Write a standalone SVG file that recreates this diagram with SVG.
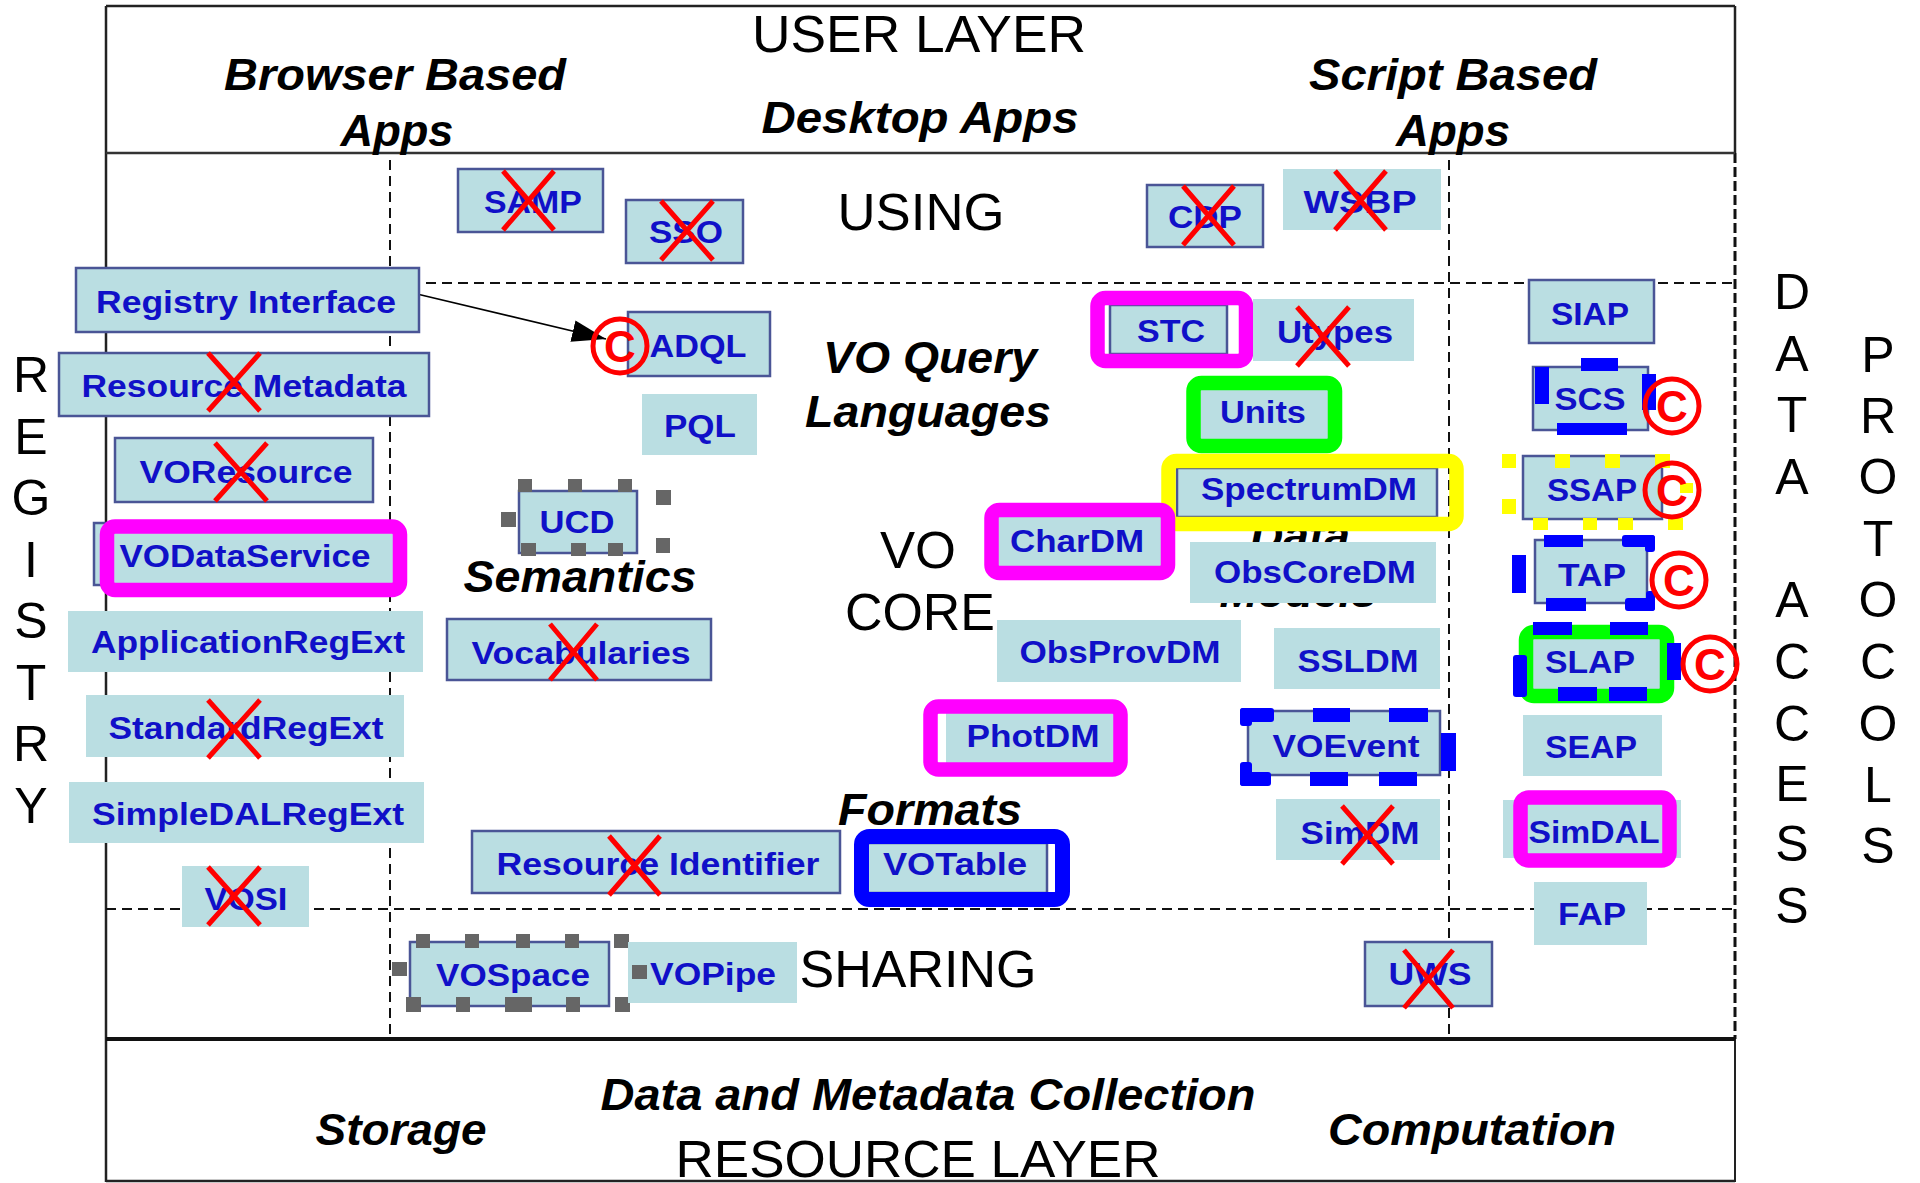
<svg xmlns="http://www.w3.org/2000/svg" width="1920" height="1183" viewBox="0 0 1920 1183">
<defs>
<style>
.bx{fill:#badee2}
.bd{fill:#badee2;stroke:#4a5596;stroke-width:2.5}
.lbl{font-family:"Liberation Sans",Arial,sans-serif;font-weight:bold;font-size:31px;fill:#1010c8;text-anchor:middle}
.big{font-family:"Liberation Sans",Arial,sans-serif;font-size:52px;fill:#000;text-anchor:middle}
.it{font-family:"Liberation Sans",Arial,sans-serif;font-size:44px;font-weight:bold;font-style:italic;fill:#000;text-anchor:middle}
.vl{font-family:"Liberation Sans",Arial,sans-serif;font-size:50px;fill:#000;text-anchor:middle}
.dash{stroke:#111;stroke-width:2;stroke-dasharray:10 6;fill:none}
.x{stroke:#ff0000;stroke-width:5;fill:none}
.cc{fill:none;stroke:#ff0000;stroke-width:5}
.ct{font-family:"Liberation Sans",Arial,sans-serif;font-weight:bold;font-size:44px;fill:#ff0000;text-anchor:middle}
.mg{fill:none;stroke:#ff00ff;stroke-width:14.5}
.gr{fill:none;stroke:#00ff00;stroke-width:14.5}
.ye{fill:none;stroke:#ffff00;stroke-width:14.5}
.bl{fill:none;stroke:#0000ff;stroke-width:15}
.bdsh{fill:#0000ff}
.ydsh{fill:#ffff00}
.h{fill:#666666}
</style>
<marker id="arr" markerWidth="34" markerHeight="22" refX="34" refY="11" orient="auto" markerUnits="userSpaceOnUse"><path d="M0,0 L34,11 L0,22 z" fill="#000"/></marker>
</defs>
<rect width="1920" height="1183" fill="#ffffff"/>

<g id="frame">
<line x1="106" y1="6" x2="1735" y2="6" stroke="#222" stroke-width="2.5"/>
<line x1="106" y1="6" x2="106" y2="1182" stroke="#222" stroke-width="2.5"/>
<line x1="1735" y1="6" x2="1735" y2="153" stroke="#222" stroke-width="2.5"/>
<line x1="1735" y1="153" x2="1735" y2="1039" stroke="#111" stroke-width="3" stroke-dasharray="10 4"/>
<line x1="1735" y1="1039" x2="1735" y2="1182" stroke="#222" stroke-width="2"/>
<line x1="106" y1="1181" x2="1735" y2="1181" stroke="#222" stroke-width="2.5"/>
<line x1="106" y1="153" x2="1735" y2="153" stroke="#333" stroke-width="2.5"/>
<line x1="106" y1="1039" x2="1735" y2="1039" stroke="#111" stroke-width="4"/>
<line x1="106" y1="283" x2="1735" y2="283" class="dash"/>
<line x1="106" y1="909" x2="1735" y2="909" class="dash"/>
<line x1="390" y1="160" x2="390" y2="1039" class="dash"/>
<line x1="1449" y1="160" x2="1449" y2="1039" class="dash"/>
</g>

<g id="labels">
<text class="big" x="919" y="52" textLength="334" lengthAdjust="spacingAndGlyphs">USER LAYER</text>
<text class="it" x="395" y="90" textLength="342" lengthAdjust="spacingAndGlyphs">Browser Based</text>
<text class="it" x="397" y="146" textLength="113" lengthAdjust="spacingAndGlyphs">Apps</text>
<text class="it" x="920" y="133" textLength="317" lengthAdjust="spacingAndGlyphs">Desktop Apps</text>
<text class="it" x="1453" y="90" textLength="288" lengthAdjust="spacingAndGlyphs">Script Based</text>
<text class="it" x="1453" y="146" textLength="114" lengthAdjust="spacingAndGlyphs">Apps</text>
<text class="big" x="921" y="230" textLength="167" lengthAdjust="spacingAndGlyphs">USING</text>
<text class="it" x="930" y="373" textLength="214" lengthAdjust="spacingAndGlyphs">VO Query</text>
<text class="it" x="928" y="427" textLength="246" lengthAdjust="spacingAndGlyphs">Languages</text>
<text class="it" x="580" y="592" textLength="233" lengthAdjust="spacingAndGlyphs">Semantics</text>
<text class="big" x="918" y="568" textLength="76" lengthAdjust="spacingAndGlyphs">VO</text>
<text class="big" x="920" y="630" textLength="150" lengthAdjust="spacingAndGlyphs">CORE</text>
<text class="it" x="1300" y="551" textLength="100" lengthAdjust="spacingAndGlyphs">Data</text>
<text class="it" x="1298" y="607" textLength="157" lengthAdjust="spacingAndGlyphs">Models</text>
<text class="it" x="930" y="825" textLength="184" lengthAdjust="spacingAndGlyphs">Formats</text>
<text class="big" x="918" y="987" textLength="237" lengthAdjust="spacingAndGlyphs">SHARING</text>
<text class="it" x="928" y="1110" textLength="655" lengthAdjust="spacingAndGlyphs">Data and Metadata Collection</text>
<text class="it" x="401" y="1145" textLength="171" lengthAdjust="spacingAndGlyphs">Storage</text>
<text class="it" x="1472" y="1145" textLength="288" lengthAdjust="spacingAndGlyphs">Computation</text>
<text class="big" x="918" y="1177" textLength="485" lengthAdjust="spacingAndGlyphs">RESOURCE LAYER</text>
</g>

<g id="registry-label">
<text class="vl" x="31" y="392">R</text>
<text class="vl" x="31" y="454">E</text>
<text class="vl" x="31" y="515">G</text>
<text class="vl" x="31" y="577">I</text>
<text class="vl" x="31" y="638">S</text>
<text class="vl" x="31" y="700">T</text>
<text class="vl" x="31" y="761">R</text>
<text class="vl" x="31" y="823">Y</text>
</g>
<g id="data-access-label">
<text class="vl" x="1792" y="309">D</text>
<text class="vl" x="1792" y="371">A</text>
<text class="vl" x="1792" y="432">T</text>
<text class="vl" x="1792" y="494">A</text>
<text class="vl" x="1792" y="617">A</text>
<text class="vl" x="1792" y="679">C</text>
<text class="vl" x="1792" y="741">C</text>
<text class="vl" x="1792" y="801">E</text>
<text class="vl" x="1792" y="861">S</text>
<text class="vl" x="1792" y="923">S</text>
</g>
<g id="protocols-label">
<text class="vl" x="1878" y="372">P</text>
<text class="vl" x="1878" y="433">R</text>
<text class="vl" x="1878" y="494">O</text>
<text class="vl" x="1878" y="556">T</text>
<text class="vl" x="1878" y="617">O</text>
<text class="vl" x="1878" y="679">C</text>
<text class="vl" x="1878" y="741">O</text>
<text class="vl" x="1878" y="802">L</text>
<text class="vl" x="1878" y="863">S</text>
</g>

<g id="connectors">
<line x1="417" y1="294" x2="606" y2="339" stroke="#000" stroke-width="1.6" marker-end="url(#arr)"/>
</g>

<g id="node-samp"><rect class="bd" x="458" y="169" width="145" height="63"/><text class="lbl" x="533" y="213" textLength="98" lengthAdjust="spacingAndGlyphs">SAMP</text></g>
<g id="node-sso"><rect class="bd" x="626" y="200" width="117" height="63"/><text class="lbl" x="686" y="243" textLength="74" lengthAdjust="spacingAndGlyphs">SSO</text></g>
<g id="node-cdp"><rect class="bd" x="1147" y="185" width="116" height="62"/><text class="lbl" x="1205" y="228" textLength="74" lengthAdjust="spacingAndGlyphs">CDP</text></g>
<g id="node-wsbp"><rect class="bx" x="1283" y="169" width="158" height="61"/><text class="lbl" x="1360" y="213" textLength="113" lengthAdjust="spacingAndGlyphs">WSBP</text></g>

<g id="node-registry-interface"><rect class="bd" x="76" y="268" width="343" height="64"/><text class="lbl" x="246" y="313" textLength="300" lengthAdjust="spacingAndGlyphs">Registry Interface</text></g>
<g id="node-resource-metadata"><rect class="bd" x="59" y="353" width="370" height="63"/><text class="lbl" x="244" y="397" textLength="325" lengthAdjust="spacingAndGlyphs">Resource Metadata</text></g>
<g id="node-voresource"><rect class="bd" x="115" y="438" width="258" height="64"/><text class="lbl" x="246" y="483" textLength="213" lengthAdjust="spacingAndGlyphs">VOResource</text></g>
<g id="node-vodataservice"><rect class="bd" x="94" y="523" width="301" height="62"/><rect class="mg" x="107" y="526.5" width="293" height="63.5" rx="8"/><text class="lbl" x="245" y="567" textLength="251" lengthAdjust="spacingAndGlyphs">VODataService</text></g>
<g id="node-applicationregext"><rect class="bx" x="68" y="611" width="355" height="61"/><text class="lbl" x="248" y="653" textLength="314" lengthAdjust="spacingAndGlyphs">ApplicationRegExt</text></g>
<g id="node-standardregext"><rect class="bx" x="86" y="695" width="318" height="62"/><text class="lbl" x="246" y="739" textLength="275" lengthAdjust="spacingAndGlyphs">StandardRegExt</text></g>
<g id="node-simpledalregext"><rect class="bx" x="69" y="782" width="355" height="61"/><text class="lbl" x="248" y="825" textLength="312" lengthAdjust="spacingAndGlyphs">SimpleDALRegExt</text></g>
<g id="node-vosi"><rect class="bx" x="182" y="866" width="127" height="61"/><text class="lbl" x="246" y="910" textLength="83" lengthAdjust="spacingAndGlyphs">VOSI</text></g>

<g id="node-adql"><rect class="bd" x="628" y="312" width="142" height="64"/><text class="lbl" x="698" y="357" textLength="97" lengthAdjust="spacingAndGlyphs">ADQL</text></g>
<g id="node-pql"><rect class="bx" x="642" y="394" width="115" height="61"/><text class="lbl" x="700" y="437" textLength="72" lengthAdjust="spacingAndGlyphs">PQL</text></g>
<g id="node-ucd"><rect class="bd" x="519" y="491" width="118" height="62"/>
<rect class="h" x="518" y="479" width="14" height="13"/><rect class="h" x="568" y="479" width="14" height="13"/><rect class="h" x="618" y="479" width="14" height="13"/>
<rect class="h" x="501" y="512" width="15" height="15"/>
<rect class="h" x="656" y="490" width="15" height="15"/><rect class="h" x="656" y="538" width="14" height="15"/>
<rect class="h" x="521" y="543" width="15" height="13"/><rect class="h" x="571" y="543" width="15" height="13"/><rect class="h" x="608" y="543" width="15" height="13"/>
<text class="lbl" x="577" y="533" textLength="75" lengthAdjust="spacingAndGlyphs">UCD</text></g>
<g id="node-vocabularies"><rect class="bd" x="447" y="619" width="264" height="61"/><text class="lbl" x="581" y="664" textLength="219" lengthAdjust="spacingAndGlyphs">Vocabularies</text></g>

<g id="node-stc"><rect class="bd" x="1110" y="305" width="117" height="49"/><rect class="mg" x="1097.5" y="298" width="148.5" height="63" rx="8"/><text class="lbl" x="1171" y="342" textLength="68" lengthAdjust="spacingAndGlyphs">STC</text></g>
<g id="node-utypes"><rect class="bx" x="1253" y="299" width="161" height="62"/><text class="lbl" x="1335" y="343" textLength="116" lengthAdjust="spacingAndGlyphs">Utypes</text></g>
<g id="node-units"><rect class="bx" x="1199" y="388" width="131" height="53"/><rect class="gr" x="1193.5" y="383" width="141.5" height="63" rx="8"/><text class="lbl" x="1263" y="423" textLength="86" lengthAdjust="spacingAndGlyphs">Units</text></g>
<g id="node-spectrumdm"><rect class="bd" x="1177" y="468" width="260" height="49"/><rect class="ye" x="1168.5" y="461" width="288" height="63" rx="8"/><text class="lbl" x="1309" y="500" textLength="216" lengthAdjust="spacingAndGlyphs">SpectrumDM</text></g>
<g id="node-chardm"><rect class="bx" x="997" y="515" width="166" height="52"/><rect class="mg" x="991.5" y="510" width="176.5" height="63" rx="8"/><text class="lbl" x="1077" y="552" textLength="134" lengthAdjust="spacingAndGlyphs">CharDM</text></g>
<g id="node-obscoredm"><rect class="bx" x="1190" y="542" width="246" height="61"/><text class="lbl" x="1315" y="583" textLength="202" lengthAdjust="spacingAndGlyphs">ObsCoreDM</text></g>
<g id="node-obsprovdm"><rect class="bx" x="997" y="620" width="244" height="62"/><text class="lbl" x="1120" y="663" textLength="201" lengthAdjust="spacingAndGlyphs">ObsProvDM</text></g>
<g id="node-ssldm"><rect class="bx" x="1274" y="628" width="166" height="61"/><text class="lbl" x="1358" y="672" textLength="121" lengthAdjust="spacingAndGlyphs">SSLDM</text></g>
<g id="node-photdm"><rect class="bx" x="946" y="712" width="170" height="52"/><rect class="mg" x="930.5" y="706.5" width="190" height="63" rx="8"/><text class="lbl" x="1033" y="747" textLength="133" lengthAdjust="spacingAndGlyphs">PhotDM</text></g>
<g id="node-voevent"><rect class="bd" x="1248" y="711" width="192" height="64"/>
<rect class="bdsh" x="1240" y="708" width="34" height="14" rx="3"/><rect class="bdsh" x="1240" y="708" width="12" height="18" rx="3"/>
<rect class="bdsh" x="1313" y="708" width="37" height="14"/><rect class="bdsh" x="1389" y="708" width="39" height="14"/>
<rect class="bdsh" x="1240" y="772" width="31" height="14" rx="3"/><rect class="bdsh" x="1240" y="762" width="12" height="24" rx="3"/>
<rect class="bdsh" x="1310" y="772" width="38" height="14"/><rect class="bdsh" x="1379" y="772" width="38" height="14"/>
<rect class="bdsh" x="1441" y="733" width="15" height="38"/>
<text class="lbl" x="1346" y="757" textLength="147" lengthAdjust="spacingAndGlyphs">VOEvent</text></g>
<g id="node-simdm"><rect class="bx" x="1276" y="799" width="164" height="61"/><text class="lbl" x="1360" y="844" textLength="119" lengthAdjust="spacingAndGlyphs">SimDM</text></g>

<g id="node-votable"><rect class="bd" x="866" y="843" width="181" height="50"/><rect class="bl" x="861.5" y="836.5" width="201" height="63" rx="8"/><text class="lbl" x="955" y="875" textLength="144" lengthAdjust="spacingAndGlyphs">VOTable</text></g>
<g id="node-resource-identifier"><rect class="bd" x="472" y="831" width="368" height="62"/><text class="lbl" x="658" y="875" textLength="323" lengthAdjust="spacingAndGlyphs">Resource Identifier</text></g>
<g id="node-vospace"><rect class="bd" x="410" y="942" width="199" height="64"/>
<rect class="h" x="416" y="934" width="14" height="14"/><rect class="h" x="465" y="934" width="14" height="14"/><rect class="h" x="516" y="934" width="14" height="14"/><rect class="h" x="565" y="934" width="14" height="14"/><rect class="h" x="614" y="934" width="15" height="14"/>
<rect class="h" x="392" y="962" width="15" height="14"/>
<rect class="h" x="406" y="997" width="15" height="15"/><rect class="h" x="456" y="997" width="14" height="15"/><rect class="h" x="505" y="997" width="27" height="15"/><rect class="h" x="566" y="997" width="14" height="15"/><rect class="h" x="615" y="997" width="15" height="15"/>
<text class="lbl" x="513" y="986" textLength="154" lengthAdjust="spacingAndGlyphs">VOSpace</text></g>
<g id="node-vopipe"><rect class="bx" x="628" y="942" width="169" height="61"/><rect class="h" x="632" y="965" width="15" height="14"/><text class="lbl" x="713" y="985" textLength="126" lengthAdjust="spacingAndGlyphs">VOPipe</text></g>
<g id="node-uws"><rect class="bd" x="1365" y="942" width="127" height="64"/><text class="lbl" x="1430" y="985" textLength="83" lengthAdjust="spacingAndGlyphs">UWS</text></g>

<g id="node-siap"><rect class="bd" x="1529" y="280" width="125" height="63"/><text class="lbl" x="1590" y="325" textLength="78" lengthAdjust="spacingAndGlyphs">SIAP</text></g>
<g id="node-scs"><rect class="bd" x="1533" y="367" width="115" height="63"/>
<rect class="bdsh" x="1581" y="358" width="37" height="13"/><rect class="bdsh" x="1535" y="367" width="14" height="37"/><rect class="bdsh" x="1642" y="374" width="14" height="36"/><rect class="bdsh" x="1557" y="423" width="70" height="12"/>
<text class="lbl" x="1590" y="410" textLength="71" lengthAdjust="spacingAndGlyphs">SCS</text></g>
<g id="node-ssap"><rect class="bd" x="1523" y="456" width="139" height="63"/>
<rect class="ydsh" x="1502" y="454" width="14" height="14"/><rect class="ydsh" x="1502" y="499" width="14" height="15"/>
<rect class="ydsh" x="1555" y="454" width="15" height="14"/><rect class="ydsh" x="1605" y="454" width="15" height="14"/><rect class="ydsh" x="1655" y="454" width="15" height="14"/>
<rect class="ydsh" x="1533" y="518" width="15" height="12"/><rect class="ydsh" x="1583" y="518" width="14" height="12"/><rect class="ydsh" x="1618" y="518" width="15" height="12"/><rect class="ydsh" x="1668" y="518" width="15" height="12"/>
<rect class="ydsh" x="1680" y="483" width="13" height="10"/>
<text class="lbl" x="1592" y="501" textLength="90" lengthAdjust="spacingAndGlyphs">SSAP</text></g>
<g id="node-tap"><rect class="bd" x="1535" y="540" width="112" height="63"/>
<rect class="bdsh" x="1544" y="535" width="39" height="12"/><rect class="bdsh" x="1622" y="535" width="33" height="12" rx="3"/><rect class="bdsh" x="1645" y="535" width="10" height="17" rx="3"/>
<rect class="bdsh" x="1512" y="555" width="14" height="38"/>
<rect class="bdsh" x="1546" y="598" width="40" height="13"/><rect class="bdsh" x="1625" y="598" width="30" height="13" rx="3"/><rect class="bdsh" x="1646" y="591" width="9" height="20" rx="3"/>
<text class="lbl" x="1592" y="586" textLength="68" lengthAdjust="spacingAndGlyphs">TAP</text></g>
<g id="node-slap"><rect class="bx" x="1531" y="637" width="130" height="54"/><rect class="gr" x="1526" y="632" width="141" height="64" rx="8"/>
<rect class="bdsh" x="1533" y="622" width="39" height="13"/><rect class="bdsh" x="1610" y="622" width="38" height="13"/>
<rect class="bdsh" x="1558" y="687" width="39" height="14"/><rect class="bdsh" x="1609" y="687" width="38" height="14"/>
<rect class="bdsh" x="1513" y="655" width="14" height="42" rx="3"/><rect class="bdsh" x="1667" y="643" width="14" height="37"/>
<text class="lbl" x="1590" y="673" textLength="90" lengthAdjust="spacingAndGlyphs">SLAP</text></g>
<g id="node-seap"><rect class="bx" x="1523" y="715" width="139" height="61"/><text class="lbl" x="1591" y="758" textLength="92" lengthAdjust="spacingAndGlyphs">SEAP</text></g>
<g id="node-simdal"><rect class="bx" x="1503" y="800" width="178" height="58"/><rect class="mg" x="1520.5" y="797.5" width="149" height="63" rx="8"/><text class="lbl" x="1594" y="843" textLength="131" lengthAdjust="spacingAndGlyphs">SimDAL</text></g>
<g id="node-fap"><rect class="bx" x="1534" y="882" width="113" height="63"/><text class="lbl" x="1592" y="925" textLength="68" lengthAdjust="spacingAndGlyphs">FAP</text></g>

<g id="deprecated-marks">
<path class="x" d="M503,171 L554,230 M554,171 L503,230"/>
<path class="x" d="M661,201 L713,260 M713,201 L661,260"/>
<path class="x" d="M1183,186 L1234,245 M1234,186 L1183,245"/>
<path class="x" d="M1335,171 L1386,230 M1386,171 L1335,230"/>
<path class="x" d="M208,353 L260,411 M260,353 L208,411"/>
<path class="x" d="M215,443 L267,501 M267,443 L215,501"/>
<path class="x" d="M550,624 L597,680 M597,624 L550,680"/>
<path class="x" d="M1297,307 L1349,366 M1349,307 L1297,366"/>
<path class="x" d="M208,700 L260,758 M260,700 L208,758"/>
<path class="x" d="M208,867 L260,925 M260,867 L208,925"/>
<path class="x" d="M609,836 L660,895 M660,836 L609,895"/>
<path class="x" d="M1342,806 L1393,864 M1393,806 L1342,864"/>
<path class="x" d="M1404,950 L1453,1008 M1453,950 L1404,1008"/>
</g>

<g id="copyright-marks">
<circle class="cc" cx="620" cy="346" r="27"/><text class="ct" x="620" y="362">C</text>
<circle class="cc" cx="1672" cy="406" r="27"/><text class="ct" x="1672" y="422">C</text>
<circle class="cc" cx="1672" cy="490" r="27"/><text class="ct" x="1672" y="506">C</text>
<circle class="cc" cx="1679" cy="580" r="27"/><text class="ct" x="1679" y="596">C</text>
<circle class="cc" cx="1710" cy="664" r="27"/><text class="ct" x="1710" y="680">C</text>
</g>
</svg>
